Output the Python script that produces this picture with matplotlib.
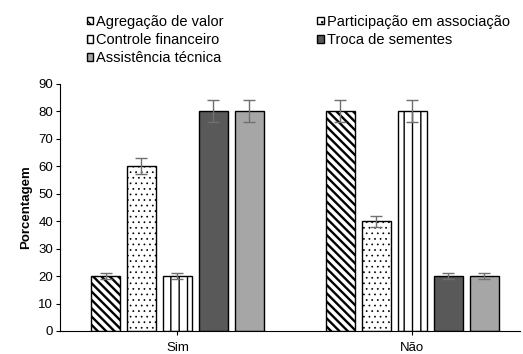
import matplotlib
matplotlib.use("Agg")
import matplotlib.pyplot as plt
import numpy as np

categories = ["Sim", "Não"]
series_names = ["Agregação de valor", "Participação em associação",
                "Controle financeiro", "Troca de sementes", "Assistência técnica"]
values = {
    "Agregação de valor": [20, 80],
    "Participação em associação": [60, 40],
    "Controle financeiro": [20, 80],
    "Troca de sementes": [80, 20],
    "Assistência técnica": [80, 20],
}
errors = {
    "Agregação de valor": [1, 4],
    "Participação em associação": [3, 2],
    "Controle financeiro": [1, 4],
    "Troca de sementes": [4, 1],
    "Assistência técnica": [4, 1],
}
yticks = list(range(0, 100, 10))

plt.rcParams["font.family"] = ["Liberation Sans", "DejaVu Sans"]

# fill, hatch pattern and hatch stroke width for each series
styles = [
    dict(facecolor="white", hatch="\\\\\\\\", hlw=1.7),
    dict(facecolor="white", hatch="...", hlw=0.5),
    dict(facecolor="white", hatch="||", hlw=1.0),
    dict(facecolor="#595959", hatch=None, hlw=1.0),
    dict(facecolor="#a6a6a6", hatch=None, hlw=1.0),
]

fig = plt.figure(figsize=(5.23, 3.54), dpi=100)
ax = fig.add_axes([0.1147, 0.065, 0.88, 0.698])

x = np.arange(len(categories))
step = 0.153
width = 0.123
for i, name in enumerate(series_names):
    st = styles[i]
    pos = x + (i - 2) * step
    with plt.rc_context({"hatch.linewidth": st["hlw"]}):
        bars = ax.bar(pos, values[name], width, edgecolor="black", linewidth=1.0,
                      label=name, facecolor=st["facecolor"], hatch=st["hatch"])
        for b in bars:
            if hasattr(b, "set_hatch_linewidth"):
                b.set_hatch_linewidth(st["hlw"])
    ax.errorbar(pos, values[name], yerr=errors[name], fmt="none",
                ecolor="#707070", elinewidth=1.0, capsize=4, capthick=1.0)

ax.set_xlim(-0.5, 1.46)
ax.set_ylim(0, 90)
ax.set_yticks(yticks)
ax.set_xticks(x)
ax.set_xticklabels(categories)
ax.tick_params(axis="y", labelsize=9.5, length=3, direction="out", pad=2)
ax.tick_params(axis="x", labelsize=9.5, length=3, direction="out", pad=5)
ax.spines["top"].set_visible(False)
ax.spines["right"].set_visible(False)
ax.set_ylabel("Porcentagem", fontsize=9.5, fontweight="bold", labelpad=4)

handles, labels = ax.get_legend_handles_labels()
order = [0, 2, 4, 1, 3]
leg = fig.legend([handles[k] for k in order], [labels[k] for k in order],
                 loc="upper left", bbox_to_anchor=(0.155, 0.975), ncol=2,
                 frameon=False, fontsize=10.5, handlelength=0.45, handleheight=0.45,
                 handletextpad=0.2, labelspacing=0.3, columnspacing=6.4,
                 borderaxespad=0)
for h in leg.legend_handles:
    if hasattr(h, "set_hatch_linewidth"):
        h.set_hatch_linewidth(1.0)

fig.savefig("out.png", dpi=100)
